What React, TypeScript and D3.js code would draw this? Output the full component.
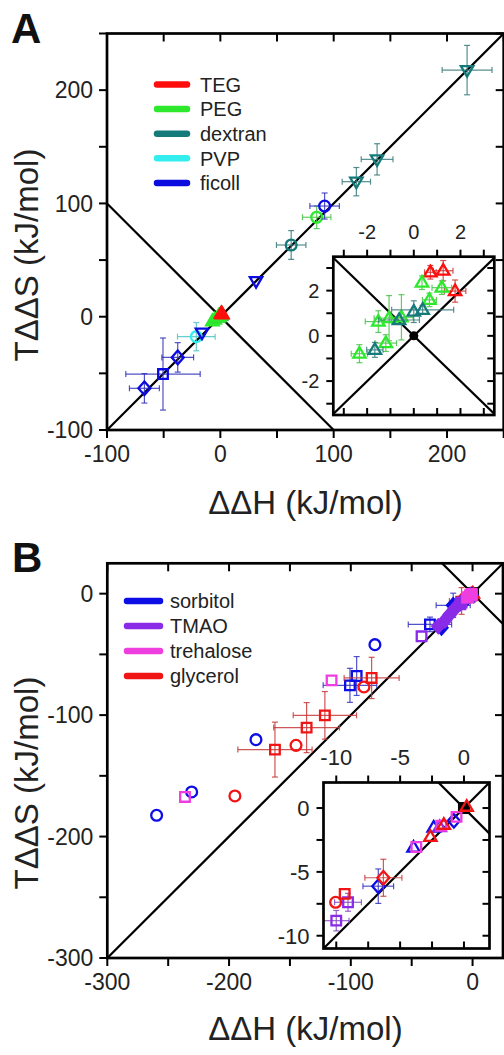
import React from "react";
import * as d3 from "d3";

const FONT = "'Liberation Sans', Arial, Helvetica, sans-serif";

type Sym = "circle" | "square" | "triup" | "tridown" | "diamond";
// [x, y, xErr, yErr, symbol]
type P = [number, number, number, number, Sym];

// ---------------- Panel A data ----------------
const A_SERIES = ["TEG", "PEG", "dextran", "PVP", "ficoll"];
const A_COLORS = ["#ff0d0d", "#2ee82e", "#157a7a", "#33eeee", "#0b0be0"];

const A_TEG_MAIN: P[] = [];
const A_PEG_MAIN: P[] = [
  [85, 87.8, 12.5, 10, "circle"],
];
const A_PEG_NEAR0: P[] = [
  [-7, -4, 0, 0, "triup"],
  [-5, -2.5, 0, 0, "triup"],
];
const A_DEX_MAIN: P[] = [
  [217.7, 217.7, 22, 21.8, "tridown"],
  [138.3, 138.9, 14, 13.8, "tridown"],
  [120, 119.2, 12.5, 12.5, "tridown"],
  [62.5, 63.3, 13, 12.7, "circle"],
];
const A_PVP_MAIN: P[] = [
  [-21.2, -17.6, 16.6, 12.5, "circle"],
];
const A_FIC_MAIN: P[] = [
  [92, 97.7, 13, 11.5, "circle"],
  [31.5, 31.5, 0, 0, "tridown"],
  [-16.2, -14.1, 0, 0, "tridown"],
  [-37.6, -35.9, 14, 13, "diamond"],
  [-50.6, -50.6, 32.8, 31.8, "square"],
  [-67, -63.2, 13.2, 13, "diamond"],
];

const A_TEG_INSET: P[] = [
  [0.71, 2.81, 0.25, 0.3, "triup"],
  [1.26, 2.88, 0.42, 0.45, "triup"],
  [1.77, 1.98, 0.46, 0.49, "triup"],
];
const A_PEG_INSET: P[] = [
  [0.35, 2.35, 0, 0.3, "triup"],
  [1.2, 2.13, 0.42, 0.3, "triup"],
  [0.67, 1.59, 0.3, 0.3, "triup"],
  [-1.52, 0.63, 0.56, 0.48, "triup"],
  [-1.06, 0.78, 0.64, 1.0, "triup"],
  [-0.53, 0.82, 0.5, 1.0, "triup"],
  [-1.2, -0.32, 0.46, 0.37, "triup"],
  [-2.33, -0.79, 0.35, 0.4, "triup"],
];
const A_DEX_INSET: P[] = [
  [-0.63, 0.7, 0.87, 0, "triup"],
  [0, 1.07, 0, 0.48, "triup"],
  [0.38, 1.15, 1.33, 0.2, "triup"],
  [-1.67, -0.62, 0.35, 0.33, "triup"],
];

const A_TICKS = [-100, -50, 0, 50, 100, 150, 200, 250];
const A_LABELS = [-100, 0, 100, 200];
const AI_TICKS = [-3, -2, -1, 0, 1, 2, 3];
const AI_LABELS = [-2, 0, 2];

// ---------------- Panel B data ----------------
const B_SERIES = ["sorbitol", "TMAO", "trehalose", "glycerol"];
const B_COLORS = ["#0d0de6", "#8a2be8", "#ee3ee0", "#f01414"];

const B_SOR_MAIN: P[] = [
  [-259.5, -182.5, 0, 0, "circle"],
  [-230.7, -163.3, 0, 0, "circle"],
  [-177.9, -120.2, 0, 0, "circle"],
  [-80.2, -42, 0, 0, "circle"],
  [-100.7, -75.5, 22, 14, "square"],
  [-95.2, -67.8, 0, 16, "square"],
  [-35, -25.3, 17.8, 6, "square"],
];
const B_SOR_NEAR0: P[] = [
  [-25.5, -28, 0, 0, "diamond"],
  [-15.9, -9.6, 14, 10, "diamond"],
];
const B_TMAO_MAIN: P[] = [
  [-41.9, -35.1, 0, 0, "square"],
];
const B_TMAO_NEAR0: P[] = [
  [-28.2, -26.9, 0, 0, "diamond"],
  [-22.7, -22, 0, 0, "diamond"],
  [-18.6, -17, 0, 0, "diamond"],
  [-14.5, -12.3, 0, 0, "diamond"],
  [-10.4, -8.2, 0, 0, "diamond"],
  [-7.7, -5.5, 0, 0, "diamond"],
];
const B_TRE_MAIN: P[] = [
  [-236.2, -167.4, 0, 0, "square"],
  [-115.8, -71.4, 0, 0, "square"],
];
const B_TRE_NEAR0: P[] = [
  [-4.5, -3.2, 0, 0, "square"],
  [-2.2, -1.4, 0, 0, "square"],
  [-0.8, -0.3, 0, 0, "square"],
];
const B_GLY_MAIN: P[] = [
  [-195.2, -166.6, 0, 0, "circle"],
  [-145, -124.9, 0, 0, "circle"],
  [-89.2, -76.8, 0, 0, "circle"],
  [-162.3, -128.4, 30.5, 22.6, "square"],
  [-136.3, -110.3, 27, 20.6, "square"],
  [-121.3, -100.2, 26, 19.6, "square"],
  [-82.9, -69.4, 22.6, 17, "square"],
];
const B_GLY_NEAR0: P[] = [
  [-9, -6, 10, 11, "diamond"],
];

const B_SOR_INSET: P[] = [
  [-0.79, -1.0, 0, 0, "diamond"],
  [-2.37, -1.53, 0, 0, "triup"],
  [-3.95, -3.1, 0, 0, "triup"],
  [-6.71, -6.12, 1.2, 1.35, "diamond"],
];
const B_TMAO_INSET: P[] = [
  [-1.9, -1.5, 0, 0, "triup"],
  [-9.08, -7.38, 1.05, 0.7, "square"],
  [-10, -8.82, 1.0, 0.8, "square"],
];
const B_TRE_INSET: P[] = [
  [-0.58, -0.69, 0, 0, "square"],
  [-1.78, -1.39, 0, 0, "square"],
  [-3.73, -3.05, 0, 0, "square"],
];
const B_GLY_INSET: P[] = [
  [0.21, 0.1, 0, 0, "triup"],
  [-1.58, -1.31, 0, 0, "triup"],
  [-2.63, -2.26, 0, 0, "triup"],
  [-6.31, -5.46, 1.45, 1.45, "diamond"],
  [-9.34, -6.72, 0, 0, "square"],
  [-10.05, -7.38, 0, 0, "circle"],
];

const B_TICKS = [-300, -250, -200, -150, -100, -50, 0];
const B_LABELS = [-300, -200, -100, 0];
const BI_TICKS = [-10, -7.5, -5, -2.5, 0];
const BI_LABELS = [-10, -5, 0];

// ---------------- helpers ----------------
function symPath(s: Sym): string {
  switch (s) {
    case "circle": {
      const r = 5.4;
      return `M${-r},0A${r},${r} 0 1,0 ${r},0A${r},${r} 0 1,0 ${-r},0Z`;
    }
    case "square": {
      const h = 4.8;
      return `M${-h},${-h}H${h}V${h}H${-h}Z`;
    }
    case "triup":
      return "M0,-6.6L6.2,4L-6.2,4Z";
    case "tridown":
      return "M0,6.6L6.2,-4L-6.2,-4Z";
    case "diamond":
      return "M0,-6.8L6,0L0,6.8L-6,0Z";
  }
}

type Scale = d3.ScaleLinear<number, number>;

function Marks({ pts, color, x, y, filled, bars }: { pts: P[]; color: string; x: Scale; y: Scale; filled?: boolean; bars?: boolean }) {
  const barColor = d3.interpolateRgb(color, "#7a7a7a")(0.35);
  const cap = 3;
  return (
    <g>
      {bars &&
        pts.map((p, i) => {
          const cx = x(p[0]);
          const cy = y(p[1]);
          const out: React.ReactNode[] = [];
          if (p[2] > 0) {
            const xa = x(p[0] - p[2]);
            const xb = x(p[0] + p[2]);
            out.push(<line key="h" x1={xa} x2={xb} y1={cy} y2={cy} />);
            out.push(<line key="ha" x1={xa} x2={xa} y1={cy - cap} y2={cy + cap} />);
            out.push(<line key="hb" x1={xb} x2={xb} y1={cy - cap} y2={cy + cap} />);
          }
          if (p[3] > 0) {
            const ya = y(p[1] - p[3]);
            const yb = y(p[1] + p[3]);
            out.push(<line key="v" x1={cx} x2={cx} y1={ya} y2={yb} />);
            out.push(<line key="va" x1={cx - cap} x2={cx + cap} y1={ya} y2={ya} />);
            out.push(<line key="vb" x1={cx - cap} x2={cx + cap} y1={yb} y2={yb} />);
          }
          return (
            <g key={i} stroke={barColor} strokeWidth={1.2} strokeOpacity={0.85}>
              {out}
            </g>
          );
        })}
      {pts.map((p, i) => (
        <path
          key={"s" + i}
          d={symPath(p[4])}
          transform={`translate(${x(p[0])},${y(p[1])})`}
          fill={filled ? color : "none"}
          stroke={color}
          strokeWidth={2.3}
          strokeLinejoin="miter"
        />
      ))}
    </g>
  );
}

function Frame({ x, y, ticksX, ticksY, labelsX, labelsY, inset, fs }: { x: Scale; y: Scale; ticksX: number[]; ticksY: number[]; labelsX: number[]; labelsY: number[]; inset?: boolean; fs: number }) {
  const [x0, x1] = x.range();
  const [y0, y1] = y.range(); // y0 bottom, y1 top
  const L = inset ? 7 : 8;
  const items: React.ReactNode[] = [];
  ticksX.forEach((t, i) => {
    const px = x(t);
    if (inset) {
      items.push(<line key={"tx" + i} x1={px} x2={px} y1={y1 - L} y2={y1} />);
      items.push(<line key={"bx" + i} x1={px} x2={px} y1={y0 - L} y2={y0} />);
    } else {
      items.push(<line key={"tx" + i} x1={px} x2={px} y1={y1} y2={y1 + L} />);
      items.push(<line key={"bx" + i} x1={px} x2={px} y1={y0} y2={y0 + L} />);
    }
  });
  ticksY.forEach((t, i) => {
    const py = y(t);
    items.push(<line key={"ly" + i} x1={x0 - L} x2={x0} y1={py} y2={py} />);
    items.push(<line key={"ry" + i} x1={x1 - L} x2={x1} y1={py} y2={py} />);
  });
  return (
    <g>
      <g stroke="#000" strokeWidth={2}>{items}</g>
      <rect x={x0} y={y1} width={x1 - x0} height={y0 - y1} fill="none" stroke="#000" strokeWidth={2.7} />
      <g fontFamily={FONT} fontSize={fs} fill="#222">
        {labelsX.map((t, i) => (
          <text key={"lx" + i} x={x(t)} y={inset ? y1 - 18 : y0 + 32} textAnchor="middle">
            {String(t)}
          </text>
        ))}
        {labelsY.map((t, i) => (
          <text key={"ly" + i} x={x0 - 14} y={y(t)} dy="0.36em" textAnchor="end">
            {String(t)}
          </text>
        ))}
      </g>
    </g>
  );
}

function Diagonals({ x, y, id, cross }: { x: Scale; y: Scale; id: string; cross: [number, number] }) {
  const [d0, d1] = x.domain();
  const [x0, x1] = x.range();
  const [y0, y1] = y.range();
  return (
    <g clipPath={`url(#${id})`} stroke="#000" strokeWidth={2.2}>
      <clipPath id={id}>
        <rect x={x0} y={y1} width={x1 - x0} height={y0 - y1} />
      </clipPath>
      <line x1={x(d0)} y1={y(d0)} x2={x(d1)} y2={y(d1)} />
      <line x1={x(cross[0])} y1={y(-cross[0])} x2={x(cross[1])} y2={y(-cross[1])} />
    </g>
  );
}

function Legend({ names, colors, x0, x1, tx, y0, dy }: { names: string[]; colors: string[]; x0: number; x1: number; tx: number; y0: number; dy: number }) {
  return (
    <g fontFamily={FONT} fontSize={20} fill="#222">
      {names.map((n, i) => (
        <g key={n}>
          <line x1={x0} x2={x1} y1={y0 + i * dy} y2={y0 + i * dy} stroke={colors[i]} strokeWidth={6.5} strokeLinecap="round" />
          <text x={tx} y={y0 + i * dy} dy="0.36em">{n}</text>
        </g>
      ))}
    </g>
  );
}

export default function App() {
  const ax = d3.scaleLinear().domain([-100, 250]).range([107, 503.7]);
  const ay = d3.scaleLinear().domain([-100, 250]).range([430, 33.5]);
  const iax = d3.scaleLinear().domain([-3.45, 3.45]).range([333.3, 494.3]);
  const iay = d3.scaleLinear().domain([-3.5, 3.5]).range([415, 256.7]);
  const bx = d3.scaleLinear().domain([-300, 25]).range([107.3, 503]);
  const by = d3.scaleLinear().domain([-300, 25]).range([958, 563.3]);
  const ibx = d3.scaleLinear().domain([-11, 2]).range([323.5, 489.5]);
  const iby = d3.scaleLinear().domain([-11, 2]).range([948.5, 782.5]);

  const aMain = [A_TEG_MAIN, A_PEG_MAIN, A_DEX_MAIN, A_PVP_MAIN, A_FIC_MAIN];
  const aInset = [A_TEG_INSET, A_PEG_INSET, A_DEX_INSET, [], []];
  const aNear = [[], A_PEG_NEAR0, [], [], []];
  const bMain = [B_SOR_MAIN, B_TMAO_MAIN, B_TRE_MAIN, B_GLY_MAIN];
  const bNear = [B_SOR_NEAR0, B_TMAO_NEAR0, B_TRE_NEAR0, B_GLY_NEAR0];
  const bInset = [B_SOR_INSET, B_TMAO_INSET, B_TRE_INSET, B_GLY_INSET];
  // drawing order for the crowded region near the origin (last drawn on top)
  const aOrder = [2, 1, 0];
  const bOrder = [3, 0, 1, 2];

  const titleStyle = { fontFamily: FONT, fontSize: 33, fill: "#222" } as const;

  return (
    <svg width={504} height={1055} style={{ position: "absolute", left: 0, top: 0, background: "#fff" }}>
      <rect width={504} height={1055} fill="#fff" />

      {/* ---------- Panel A ---------- */}
      <Diagonals x={ax} y={ay} id="clipA" cross={[-100, 100]} />
      <Legend names={A_SERIES} colors={A_COLORS} x0={157} x1={187} tx={200} y0={84.5} dy={24.6} />
      {aMain.map((pts, i) => (
        <Marks key={"am" + i} pts={pts} color={A_COLORS[i]} x={ax} y={ay} bars />
      ))}
      <circle cx={ax(0)} cy={ay(0)} r={4} fill="#000" />
      {aNear.map((pts, i) => (
        <Marks key={"an" + i} pts={pts} color={A_COLORS[i]} x={ax} y={ay} filled />
      ))}
      {aOrder.map((i) => (
        <Marks key={"ai" + i} pts={aInset[i]} color={A_COLORS[i]} x={ax} y={ay} filled />
      ))}
      <Frame x={ax} y={ay} ticksX={A_TICKS} ticksY={A_TICKS} labelsX={A_LABELS} labelsY={A_LABELS} fs={23} />

      {/* inset A */}
      <rect x={333.3} y={256.7} width={161} height={158.3} fill="#fff" />
      <Diagonals x={iax} y={iay} id="clipAI" cross={[-3.6, 3.6]} />
      {aInset.map((pts, i) => (
        <Marks key={"aib" + i} pts={pts} color={A_COLORS[i]} x={iax} y={iay} bars />
      ))}
      <circle cx={iax(0)} cy={iay(0)} r={4.5} fill="#000" />
      <Frame x={iax} y={iay} ticksX={AI_TICKS} ticksY={AI_TICKS} labelsX={AI_LABELS} labelsY={AI_LABELS} inset fs={20} />

      <text x={11} y={43} fontFamily={FONT} fontSize={42} fontWeight="bold" fill="#111">A</text>
      <text x={305.5} y={514} textAnchor="middle" {...titleStyle}>ΔΔH (kJ/mol)</text>
      <text transform="translate(38,255) rotate(-90)" textAnchor="middle" {...titleStyle}>TΔΔS (kJ/mol)</text>

      {/* ---------- Panel B ---------- */}
      <Diagonals x={bx} y={by} id="clipB" cross={[-30, 30]} />
      <Legend names={B_SERIES} colors={B_COLORS} x0={127} x1={160} tx={170} y0={601} dy={25} />
      {bMain.map((pts, i) => (
        <Marks key={"bm" + i} pts={pts} color={B_COLORS[i]} x={bx} y={by} bars />
      ))}
      {bNear.map((pts, i) => (
        <Marks key={"bnb" + i} pts={pts.filter((p) => p[2] > 0 || p[3] > 0)} color={B_COLORS[i]} x={bx} y={by} bars />
      ))}
      <rect x={bx(0) - 6.5} y={by(0) - 6.5} width={13} height={13} fill="#000" />
      {bOrder.map((i) => (
        <g key={"bn" + i}>
          <Marks pts={bInset[i]} color={B_COLORS[i]} x={bx} y={by} filled />
          <Marks pts={bNear[i]} color={B_COLORS[i]} x={bx} y={by} filled />
        </g>
      ))}
      <Frame x={bx} y={by} ticksX={B_TICKS} ticksY={B_TICKS} labelsX={B_LABELS} labelsY={B_LABELS} fs={23} />

      {/* inset B */}
      <rect x={323.5} y={782.5} width={166} height={166} fill="#fff" />
      <Diagonals x={ibx} y={iby} id="clipBI" cross={[-3, 3]} />
      <rect x={ibx(0) - 6} y={iby(0) - 6} width={12} height={12} fill="#000" />
      {bInset.map((pts, i) => (
        <Marks key={"bib" + i} pts={pts} color={B_COLORS[i]} x={ibx} y={iby} bars />
      ))}
      <Frame x={ibx} y={iby} ticksX={BI_TICKS} ticksY={BI_TICKS} labelsX={BI_LABELS} labelsY={BI_LABELS} inset fs={22} />

      <text x={12} y={572} fontFamily={FONT} fontSize={42} fontWeight="bold" fill="#111">B</text>
      <text x={305.5} y={1040} textAnchor="middle" {...titleStyle}>ΔΔH (kJ/mol)</text>
      <text transform="translate(38,783) rotate(-90)" textAnchor="middle" {...titleStyle}>TΔΔS (kJ/mol)</text>
    </svg>
  );
}
